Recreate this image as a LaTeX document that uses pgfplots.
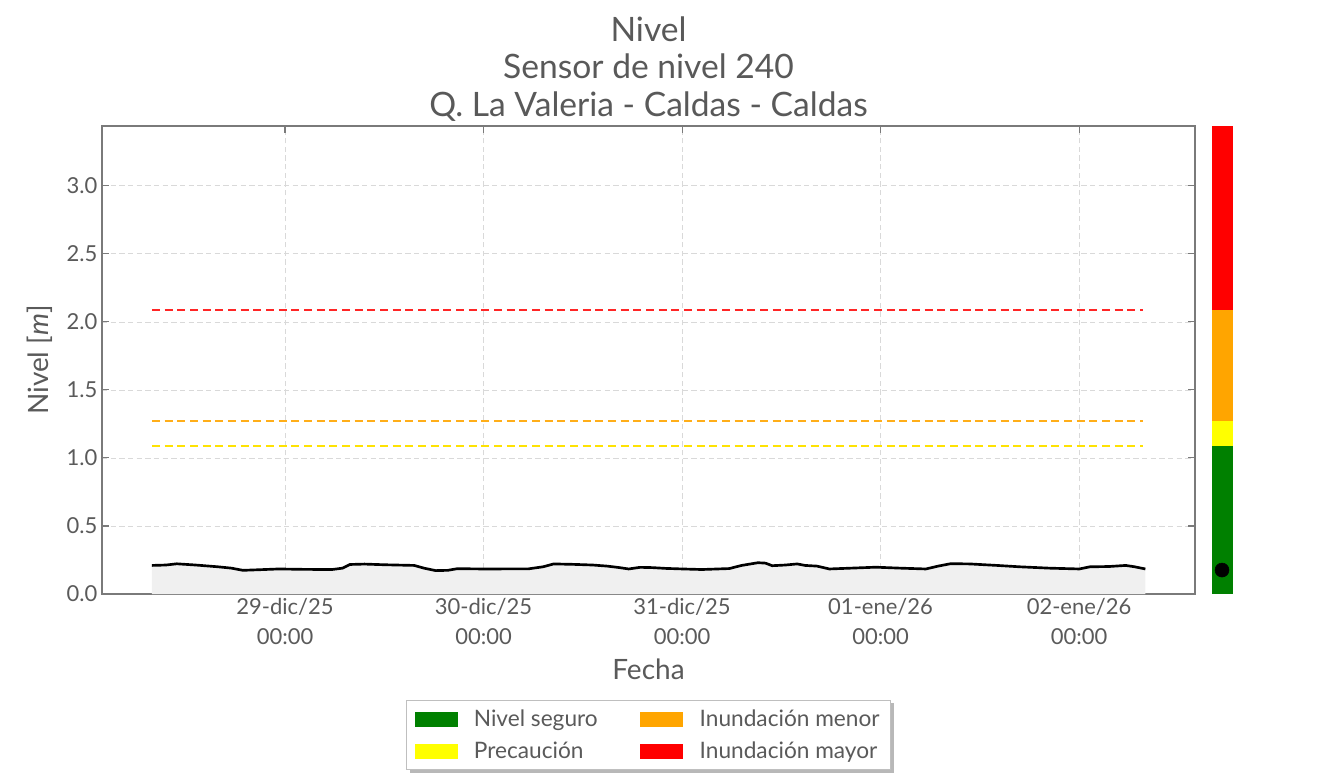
\documentclass[border=0pt]{standalone}
\usepackage{fontspec}
\setmainfont{Lato}
\usepackage{pgfplots}
\usepackage{pgfplotstable}
\pgfplotsset{compat=1.18}
\usetikzlibrary{backgrounds}

\definecolor{cgreen}{HTML}{008000}
\definecolor{cyellow}{HTML}{FFFF00}
\definecolor{corange}{HTML}{FFA500}
\definecolor{cred}{HTML}{FF0000}
\definecolor{txt}{HTML}{5A5A5A}
\definecolor{frame}{HTML}{7A7A7A}

% days from 29-dic/25 00:00, level in m
\pgfplotstableread{
d v
-0.671 0.210
-0.600 0.213
-0.545 0.222
-0.450 0.213
-0.338 0.200
-0.270 0.190
-0.212 0.174
-0.120 0.179
-0.032 0.184
0.100 0.181
0.237 0.180
0.290 0.190
0.327 0.217
0.400 0.220
0.500 0.215
0.651 0.210
0.700 0.190
0.759 0.172
0.820 0.174
0.867 0.186
1.000 0.184
1.227 0.185
1.300 0.200
1.353 0.221
1.450 0.218
1.550 0.213
1.623 0.205
1.680 0.195
1.731 0.184
1.788 0.196
1.850 0.194
1.920 0.188
2.004 0.184
2.100 0.180
2.238 0.187
2.300 0.210
2.382 0.230
2.420 0.227
2.454 0.208
2.520 0.213
2.580 0.221
2.620 0.210
2.680 0.205
2.742 0.184
2.850 0.190
2.976 0.197
3.100 0.190
3.228 0.184
3.290 0.205
3.354 0.223
3.450 0.221
3.587 0.210
3.700 0.200
3.850 0.190
4.001 0.184
4.055 0.200
4.150 0.202
4.235 0.210
4.280 0.200
4.334 0.184
}\nivel

\begin{document}
\begin{tikzpicture}
\useasboundingbox (-76.5pt,-135pt) rectangle (918pt,445.5pt);
\begin{axis}[
    name=main,
    scale only axis,
    width=819.75pt, height=351pt,
    xmin=-0.922, xmax=4.584,
    ymin=0, ymax=3.44,
    xtick={0,1,2,3,4},
    xticklabels={{29-dic/25\\00:00},{30-dic/25\\00:00},{31-dic/25\\00:00},{01-ene/26\\00:00},{02-ene/26\\00:00}},
    ytick={0,0.5,1,1.5,2,2.5,3},
    yticklabel style={/pgf/number format/fixed, /pgf/number format/fixed zerofill, /pgf/number format/precision=1,
        font=\fontsize{16.5}{20}\selectfont, text=txt},
    /pgf/number format/assume math mode=true,
    xticklabel style={align=center, font=\fontsize{16.5}{22.5}\selectfont, text=txt},
    grid=major,
    grid style={dash pattern=on 4pt off 2.5pt, color=gray!30, line width=0.6pt},
    tick align=inside,
    major tick length=5pt,
    tick style={frame, line width=0.8pt},
    axis line style={frame, line width=0.9pt},
    xlabel={Fecha},
    ylabel={Nivel [\textit{m}]},
    xlabel style={at={(axis description cs:0.5,-0.16)}, anchor=center, font=\fontsize{21}{24}\selectfont, text=txt},
    ylabel style={at={(axis description cs:-0.0567,0.5)}, anchor=center, font=\fontsize{21}{24}\selectfont, text=txt},
    title={Nivel\\Sensor de nivel 240\\Q. La Valeria - Caldas - Caldas},
    title style={align=center, font=\fontsize{25.2}{28.2}\selectfont, text=black!65, yshift=-6pt},
    legend columns=2,
    legend cell align=left,
    legend style={
        name=leg,
        at={(0.5,-0.2265)}, anchor=north,
        draw=black!25, fill=white,
        font=\fontsize{17}{20}\selectfont, text=txt,
        row sep=6pt, inner xsep=6pt, inner ysep=5pt,
        /tikz/every even column/.append style={column sep=30pt},
    },
]
\addplot[draw=none, fill=gray!12, forget plot] table[x=d, y=v] {\nivel} \closedcycle;
\addplot[black, line width=2pt, forget plot] table[x=d, y=v] {\nivel};

\addplot[cred!85, line width=1.5pt, dash pattern=on 6pt off 3.5pt, forget plot] coordinates {(-0.67,2.09) (4.32,2.09)};
\addplot[corange!90, line width=1.5pt, dash pattern=on 6pt off 3.5pt, forget plot] coordinates {(-0.67,1.27) (4.32,1.27)};
\addplot[yellow!85!orange, line width=1.5pt, dash pattern=on 6pt off 3.5pt, forget plot] coordinates {(-0.67,1.09) (4.32,1.09)};

\addlegendimage{legend image code/.code={\fill[cgreen] (0pt,-5.25pt) rectangle (31.5pt,5.25pt); \path (42pt,0pt);}}
\addlegendentry{Nivel seguro}
\addlegendimage{legend image code/.code={\fill[corange] (0pt,-5.25pt) rectangle (31.5pt,5.25pt); \path (42pt,0pt);}}
\addlegendentry{Inundación menor}
\addlegendimage{legend image code/.code={\fill[cyellow] (0pt,-5.25pt) rectangle (31.5pt,5.25pt); \path (42pt,0pt);}}
\addlegendentry{Precaución}
\addlegendimage{legend image code/.code={\fill[cred] (0pt,-5.25pt) rectangle (31.5pt,5.25pt); \path (42pt,0pt);}}
\addlegendentry{Inundación mayor}
\end{axis}
% legend shadow
\begin{scope}[on background layer]
\fill[black!28] ([xshift=2.5pt,yshift=-2.5pt]leg.south west) rectangle ([xshift=2.5pt,yshift=-2.5pt]leg.north east);
\end{scope}

\begin{axis}[
    at={(832.5pt,0pt)}, anchor=south west,
    scale only axis,
    width=15.75pt, height=351pt,
    xmin=0, xmax=1, ymin=0, ymax=3.44,
    hide axis, clip=false,
]
\addplot[draw=none, fill=cgreen] coordinates {(0,0) (1,0) (1,1.09) (0,1.09)} -- cycle;
\addplot[draw=none, fill=cyellow] coordinates {(0,1.09) (1,1.09) (1,1.27) (0,1.27)} -- cycle;
\addplot[draw=none, fill=corange] coordinates {(0,1.27) (1,1.27) (1,2.09) (0,2.09)} -- cycle;
\addplot[draw=none, fill=cred] coordinates {(0,2.09) (1,2.09) (1,3.44) (0,3.44)} -- cycle;
\addplot[only marks, mark=*, mark size=5.25pt, black] coordinates {(0.476,0.176)};
\end{axis}
\end{tikzpicture}
\end{document}
